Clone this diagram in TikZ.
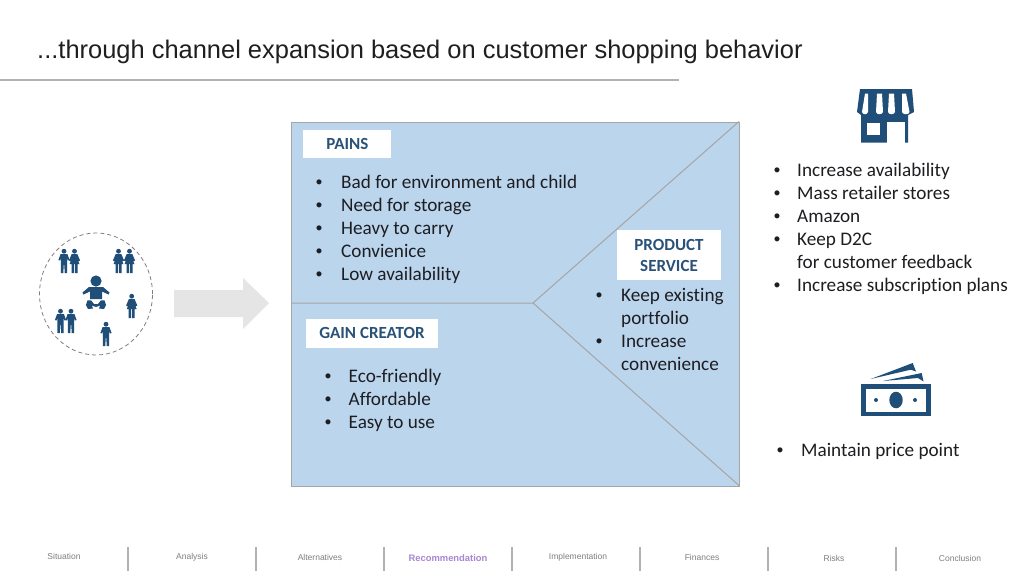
\documentclass[tikz,border=0pt]{standalone}
\usepackage{fontspec}
\usetikzlibrary{shapes.geometric}
\setmainfont[Ligatures=NoCommon]{Carlito}
\newfontfamily\arialf{Liberation Sans}
\definecolor{iconblue}{HTML}{1F4E79}
\definecolor{panelblue}{HTML}{BBD5ED}
\definecolor{panelline}{HTML}{A5A5A5}
\definecolor{bodytext}{HTML}{1E1E22}
\definecolor{tagtext}{HTML}{2A5278}
\definecolor{navtext}{HTML}{7F7F7F}
\definecolor{navact}{HTML}{A887D0}
\tikzset{
  itemtxt/.style={inner sep=0pt, anchor=base west, yshift=-.5pt, font=\fontsize{19.2}{23}\selectfont, text=bodytext},
  blt/.style={inner sep=0pt, anchor=base, yshift=-.5pt, font=\arialf\fontsize{18.5}{23}\selectfont, text=bodytext},
  tagbox/.style={fill=white, text=tagtext, font=\fontsize{17}{21}\selectfont\bfseries, inner sep=0pt, align=center},
  navlbl/.style={font=\arialf\fontsize{8.5}{10}\selectfont, text=navtext, inner sep=0pt},
  navsep/.style={draw=black!30, line width=1.2pt},
  pics/man/.style={code={
    \fill[iconblue] (0,-9.8) circle (2.4);
    \fill[iconblue] (-3.4,-7) -- (3.4,-7) -- (5.6,-1) -- (3.9,-.5) -- (3.2,-3.5) -- (3.2,3.3) -- (3,12) -- (.6,12) -- (.4,4) -- (-.4,4) -- (-.6,12) -- (-3,12) -- (-3.2,3.3) -- (-3.2,-3.5) -- (-3.9,-.5) -- (-5.6,-1) -- cycle;
  }},
  pics/woman/.style={code={
    \fill[iconblue] (0,-9.8) circle (2.4);
    \fill[iconblue] (-2.8,-7) -- (2.8,-7) -- (5.6,-.5) -- (4.1,.2) -- (2.6,-3) -- (5,3.2) -- (3,3.2) -- (3,12) -- (.5,12) -- (.5,3.2) -- (-.5,3.2) -- (-.5,12) -- (-3,12) -- (-3,3.2) -- (-5,3.2) -- (-2.6,-3) -- (-4.1,.2) -- (-5.6,-.5) -- cycle;
  }},
}
\begin{document}
\begin{tikzpicture}[x=1pt,y=-1pt]
\useasboundingbox (0,0) rectangle (1024,576);
\fill[white] (0,0) rectangle (1024,576);

% title
\node[inner sep=0pt, anchor=base west, font=\arialf\fontsize{25.45}{28}\selectfont, text=black!88] (title) at (37,58) {...through channel expansion based on customer shopping behavior};
\coordinate (ruleL) at (0,80);
\coordinate (ruleR) at (679,80);
\draw[black!30, line width=1.2pt] (ruleL) -- (ruleR);

% people circle
\node[draw=black!50, dash pattern=on 4pt off 3pt, ellipse, minimum width=113pt, minimum height=122pt, inner sep=0pt, line width=.8pt] (crowd) at (96,294) {};
\pic at (64,261) {man};
\pic at (74.5,261) {woman};
\pic at (118.5,261) {woman};
\pic at (129.5,261) {woman};
\pic at (60.5,321) {man};
\pic at (71,321) {man};
\pic at (131.7,306) {woman};
\pic at (106,334) {man};
% baby
\fill[iconblue] (96,281) circle (5.6);
\fill[iconblue] (82.5,292.5) -- (89,287) -- (103,287) -- (109.5,292.5) -- (108.5,294.5) -- (102,291.5) -- (102,299) -- (90,299) -- (90,291.5) -- (83.5,294.5) -- cycle;
\fill[iconblue] (87.5,300.3) -- (91,300.3) -- (94,304) -- (98,304) -- (101,300.3) -- (104.5,300.3) -- (106,305) -- (104,309) -- (99,308.5) -- (100,305.5) -- (96,307) -- (92,305.5) -- (93,308.5) -- (88,309) -- (86,305) -- cycle;

% arrow
\fill[black!10] (174,290) -- (243,290) -- (243,278) -- (269,303) -- (243,329) -- (243,317) -- (174,317) -- cycle;

% panel
\node[draw=panelline, fill=panelblue, line width=1.2pt, minimum width=448pt, minimum height=364pt, inner sep=0pt, anchor=north west] (panel) at (291,121.5) {};
\coordinate (hub) at (533,303);
\coordinate (hubL) at (291,303);
\coordinate (hubT) at (739,121.5);
\coordinate (hubB) at (739,485.5);
\draw[panelline, line width=1pt] (hubL) -- (hub) (hubT) -- (hub) -- (hubB);

\node[tagbox, minimum width=88pt, minimum height=28.4pt] (pains) at (347.4,143.7) {PAINS};
\node[tagbox, minimum width=132pt, minimum height=28.4pt] (gain) at (372,333.3) {GAIN CREATOR};
\node[tagbox, minimum width=104pt, minimum height=50pt] (prod) at (669,255) {PRODUCT\\SERVICE};

% text lists
\foreach \y/\t in {188/Bad for environment and child,211/Need for storage,234/Heavy to carry,257/Convienice,280/Low availability}
  {\node[blt] at (319,\y) {•};
   \node[itemtxt] at (341,\y) {\t};}
\foreach \y/\t in {382/Eco-friendly,405/Affordable,428/Easy to use}
  {\node[blt] at (328,\y) {•};
   \node[itemtxt] at (348.5,\y) {\t};}
\foreach \y/\b/\t in {301/•/Keep existing,324//portfolio,347/•/Increase,370//convenience}
  {\node[blt] at (599,\y) {\b};
   \node[itemtxt] at (621,\y) {\t};}
\foreach \y/\b/\t in {176/•/Increase availability,199/•/Mass retailer stores,222/•/Amazon,245/•/Keep D2C,268//for customer feedback,291/•/Increase subscription plans}
  {\node[blt] at (777,\y) {\b};
   \node[itemtxt] at (797,\y) {\t};}
\node[blt] at (780,456) {•};
\node[itemtxt] (price) at (801,456) {Maintain price point};

% store icon
\fill[iconblue] (860,89) -- (912,89) -- (914,112) -- (908,115) -- (908,142.5) -- (861,142.5) -- (861,115) -- (857,112) -- cycle;
\fill[white] (867,123) rectangle (880,135);
\fill[white] (887,122) rectangle (905,143);
\fill[white] (865,93.5) -- (868,93.5) -- (868,112) .. controls (867,115) and (863,115) .. (862,112) -- cycle;
\fill[white] (877,93.5) -- (882,93.5) -- (883,112) .. controls (882,115) and (877,115) .. (876,112) -- cycle;
\fill[white] (889,93.5) -- (894,93.5) -- (895,112) .. controls (894,115) and (889,115) .. (888,112) -- cycle;
\fill[white] (902,93.5) -- (906,93.5) -- (909.5,112) .. controls (909,115) and (903,115) .. (902,112) -- cycle;

% money icon
\fill[iconblue] (861,384) rectangle (931,416);
\fill[white] (865.5,389) rectangle (926,411.5);
\fill[iconblue] (896,400) ellipse (6.7 and 8.3);
\fill[iconblue] (876,400) circle (2);
\fill[iconblue] (915,400) circle (2);
\fill[iconblue] (870.7,379) -- (912.7,363) -- (916,371.5) -- (910.7,369.7) -- cycle;
\fill[iconblue] (883,381) -- (921.7,373) -- (923.5,381.5) -- (918,378) -- cycle;

% nav
\foreach \n/\x/\y/\t in {a/64/556/Situation,b/192/557/Analysis,c/320/557/Alternatives,e/578/557/Implementation,f/702/557/Finances,g/834/558.5/Risks,h/960/558.5/Conclusion}
  \node[navlbl] (nav\n) at (\x,\y) {\t};
\node[navlbl, font=\arialf\fontsize{9.4}{10}\selectfont\bfseries, text=navact] (navd) at (448,558) {Recommendation};
\foreach \x in {128,256,384,512,640,768,896}
  \draw[navsep] (\x,547) -- (\x,570.5);
\end{tikzpicture}
\end{document}
